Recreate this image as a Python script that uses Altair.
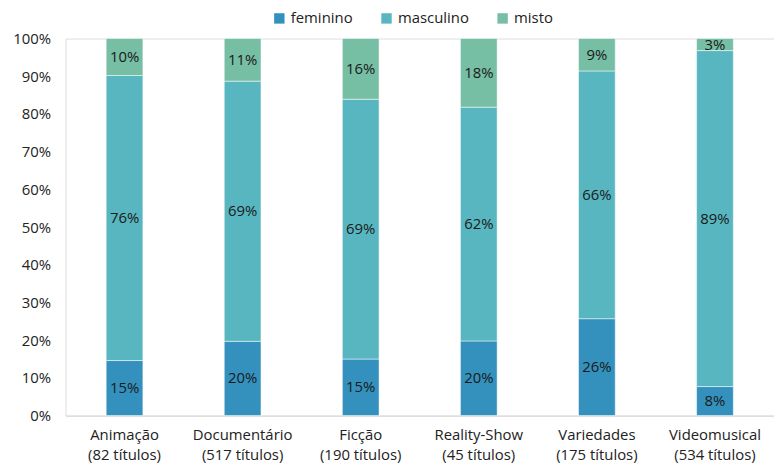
import altair as alt
import pandas as pd

categories = ["Animação|(82 títulos)", "Documentário|(517 títulos)", "Ficção|(190 títulos)",
              "Reality-Show|(45 títulos)", "Variedades|(175 títulos)", "Videomusical|(534 títulos)"]
series = ["feminino", "masculino", "misto"]
feminino = [14.6, 19.7, 15.0, 19.8, 25.7, 7.7]
masculino = [75.6, 69.0, 68.9, 62.0, 65.7, 89.1]
misto = [9.8, 11.3, 16.1, 18.2, 8.6, 3.2]
colors = ["#3491be", "#58b6c1", "#76bea4"]

rows = []
for i, c in enumerate(categories):
    for j, (s, vals) in enumerate(zip(series, [feminino, masculino, misto])):
        rows.append({"cat": c, "serie": s, "order": j, "v": vals[i] / 100.0})
df = pd.DataFrame(rows)

FONT = "Open Sans"

base = alt.Chart(df).transform_stack(
    stack="v", groupby=["cat"], as_=["y0", "y1"], sort=[alt.SortField("order", order="ascending")]
).transform_calculate(mid="(datum.y0 + datum.y1) / 2")

xaxis = alt.Axis(labelExpr="split(datum.label, '|')", labelAngle=0, labelFontSize=15,
                 labelFont=FONT, labelColor="#222222", labelPadding=12, ticks=False,
                 domainColor="#d9d9d9", labelLineHeight=20, labelOverlap=False)
yaxis = alt.Axis(format=".0%", values=[i / 10 for i in range(11)], title=None, grid=False,
                 domain=False, ticks=False, labelFontSize=15, labelFont=FONT,
                 labelColor="#222222", labelPadding=15, labelOverlap=False)
xscale = alt.Scale(paddingInner=0.69, paddingOuter=0.345)
yscale = alt.Scale(domain=[0, 1])

bars = base.mark_bar(size=37, stroke="white", strokeWidth=0.5).encode(
    x=alt.X("cat:N", sort=categories, title=None, scale=xscale, axis=xaxis),
    y=alt.Y("y0:Q", scale=yscale, axis=yaxis, title=None),
    y2="y1:Q",
    color=alt.Color("serie:N", scale=alt.Scale(domain=series, range=colors),
                    legend=alt.Legend(title=None, orient="none", legendX=208, legendY=-28,
                                      direction="horizontal", symbolType="square", symbolSize=110,
                                      labelFontSize=15, labelFont=FONT, labelColor="#222222",
                                      columnPadding=26, symbolStrokeWidth=0)),
)

labels = base.mark_text(fontSize=15, font=FONT, color="#1a1a1a").encode(
    x=alt.X("cat:N", sort=categories, title=None, scale=xscale, axis=xaxis),
    y=alt.Y("mid:Q", scale=yscale, axis=yaxis, title=None),
    text=alt.Text("v:Q", format=".0%"),
)

chart = alt.layer(bars, labels).properties(
    width=714, height=380,
    autosize=alt.AutoSizeParams(type="none"),
    padding={"left": 66, "top": 37, "right": 0, "bottom": 53},
).configure_view(strokeWidth=0).configure(background="white")

chart.save("out.html", embed_options={"renderer": "svg", "actions": False})
